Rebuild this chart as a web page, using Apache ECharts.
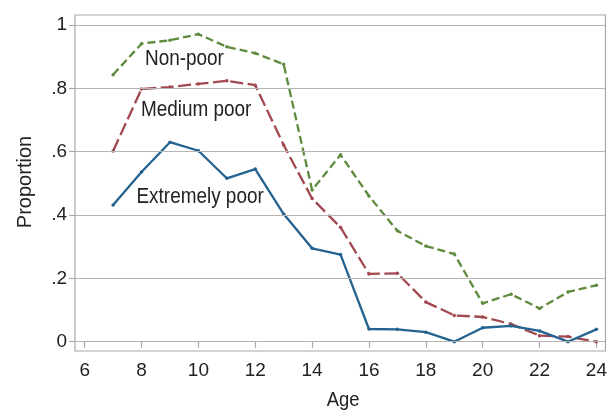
<!DOCTYPE html>
<html>
<head>
<meta charset="utf-8">
<script src="https://cdn.jsdelivr.net/npm/echarts@6/dist/echarts.min.js"></script>
<style>html,body{margin:0;padding:0;background:#fff}#c{width:610px;height:412px}</style>
</head>
<body>
<div id="c"></div>
<script>
const ages = [7,8,9,10,11,12,13,14,15,16,17,18,19,20,21,22,23,24];
const nonPoor = [0.843,0.941,0.952,0.971,0.931,0.911,0.876,0.479,0.590,0.460,0.350,0.302,0.277,0.121,0.150,0.105,0.157,0.178];
const mediumPoor = [0.602,0.798,0.804,0.814,0.824,0.810,0.621,0.452,0.361,0.214,0.216,0.125,0.083,0.078,0.056,0.019,0.016,0.000];
const extremelyPoor = [0.432,0.536,0.630,0.603,0.516,0.545,0.403,0.295,0.275,0.040,0.039,0.030,0.000,0.044,0.050,0.034,0.000,0.039];
const xTicks = [6,8,10,12,14,16,18,20,22,24];
const yTicks = [0,0.2,0.4,0.6,0.8,1];
const yTickLabels = ['0','.2','.4','.6','.8','1'];

const FONT = '"Liberation Sans", Arial, sans-serif';
const chart = echarts.init(document.getElementById('c'), null, {renderer:'canvas'});
function pairs(v){ return ages.map((a,i)=>[a,v[i]]); }
function mk(name, data, color, type){
  return {
    name, type:'line', data: pairs(data), symbol:'circle', symbolSize:3.5,
    lineStyle:{color, width:2.3, type}, itemStyle:{color}, silent:true, animation:false, z:3
  };
}
const series = [
  mk('Non-poor', nonPoor, '#5e8b3e', [8,4]),
  mk('Medium poor', mediumPoor, '#a2484f', [13,4.5]),
  mk('Extremely poor', extremelyPoor, '#24628f', 'solid')
];
series.push({
  type:'line', data:[], silent:true, z:1,
  markLine:{silent:true, symbol:['none','none'], label:{show:false}, animation:false,
    lineStyle:{color:'#b4b4b4', width:1.2, type:'solid'},
    data: yTicks.map(v=>({yAxis:v}))}
});
chart.setOption({
  animation:false,
  backgroundColor:'#fff',
  grid:{left:75, right:4.5, top:15, bottom:61, show:true, borderColor:'#a8a8a8', borderWidth:1.2, backgroundColor:'transparent'},
  xAxis:{type:'value', min:5.66, max:24.32,
    axisLine:{show:false},
    axisTick:{show:true, customValues:xTicks, length:6, lineStyle:{color:'#a8a8a8', width:1.2}},
    axisLabel:{customValues:xTicks, color:'#222', fontFamily:FONT, fontSize:19, margin:10},
    splitLine:{show:false}},
  yAxis:{type:'value', min:-0.0294, max:1.0316,
    axisLine:{show:false},
    axisTick:{show:true, customValues:yTicks, length:6, lineStyle:{color:'#a8a8a8', width:1.2}},
    axisLabel:{customValues:yTicks, color:'#222', fontFamily:FONT, fontSize:19, margin:8,
      formatter:(v)=>{const i=yTicks.findIndex(t=>Math.abs(t-v)<1e-6);return i>=0?yTickLabels[i]:'';}},
    splitLine:{show:false}},
  graphic:[
    {type:'text', x:145, y:59, scaleX:0.86, style:{text:'Non-poor', font:'22px '+FONT, fill:'#222', verticalAlign:'middle'}},
    {type:'text', x:141, y:110, scaleX:0.86, style:{text:'Medium poor', font:'22px '+FONT, fill:'#222', verticalAlign:'middle'}},
    {type:'text', x:136.5, y:197, scaleX:0.86, style:{text:'Extremely poor', font:'22px '+FONT, fill:'#222', verticalAlign:'middle'}},
    {type:'text', x:343, y:400, scaleX:0.92, style:{text:'Age', font:'20px '+FONT, fill:'#222', align:'center', verticalAlign:'middle'}},
    {type:'text', x:25, y:182, rotation:Math.PI/2, style:{text:'Proportion', font:'20px '+FONT, fill:'#222', align:'center', verticalAlign:'middle'}}
  ],
  series
});
</script>
</body>
</html>
